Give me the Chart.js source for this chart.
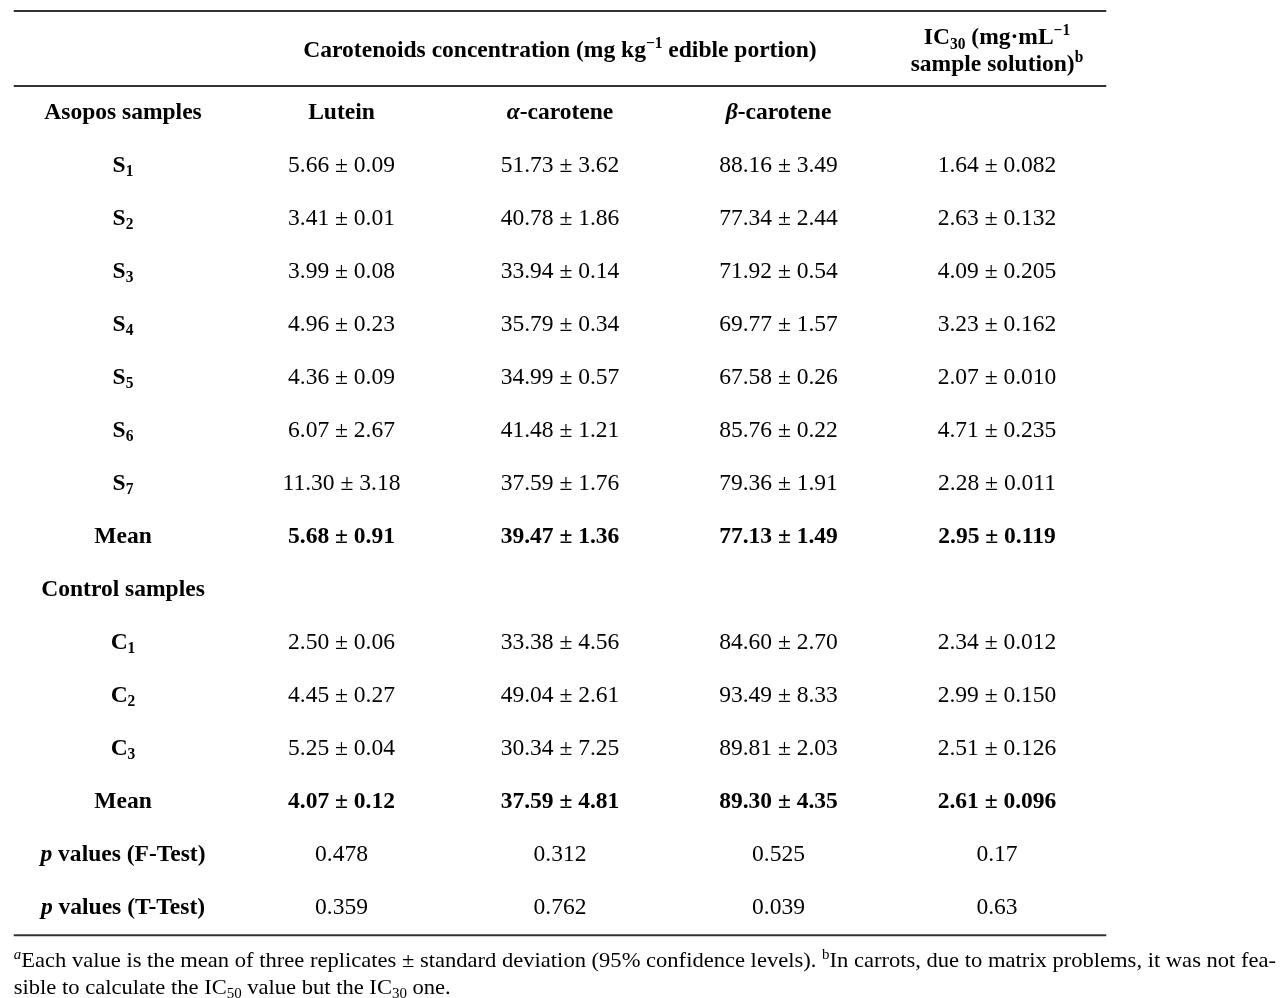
<!DOCTYPE html>
<html><head><meta charset="utf-8">
<script src="https://cdn.jsdelivr.net/npm/chart.js@4"></script>
<style>html,body{margin:0;padding:0;background:#fff;overflow:hidden}</style>
</head><body>
<canvas id="c" width="1283" height="998"></canvas>
<script>
// ---------- DATA ----------
const groupTitles = ['Asopos samples', 'Control samples'];
const asoposSamples = ['S1', 'S2', 'S3', 'S4', 'S5', 'S6', 'S7'];
const controlSamples = ['C1', 'C2', 'C3'];
const meanLabel = 'Mean';
const testLabels = ['~{p} values (F-Test)', '~{p} values (T-Test)'];
const columnNames = ['Lutein', '~{α}-carotene', '~{β}-carotene', ''];
const headerTitle = 'Carotenoids concentration (mg kg^{−1} edible portion)';
const icHeaderLines = ['IC_{30} (mg·mL^{−1}', 'sample solution)^{b}'];

// Asopos S1..S7, Asopos mean, Control C1..C3, Control mean
const luteinMean = [5.66, 3.41, 3.99, 4.96, 4.36, 6.07, 11.30, 5.68, 2.50, 4.45, 5.25, 4.07];
const luteinSD   = [0.09, 0.01, 0.08, 0.23, 0.09, 2.67, 3.18, 0.91, 0.06, 0.27, 0.04, 0.12];
const alphaMean  = [51.73, 40.78, 33.94, 35.79, 34.99, 41.48, 37.59, 39.47, 33.38, 49.04, 30.34, 37.59];
const alphaSD    = [3.62, 1.86, 0.14, 0.34, 0.57, 1.21, 1.76, 1.36, 4.56, 2.61, 7.25, 4.81];
const betaMean   = [88.16, 77.34, 71.92, 69.77, 67.58, 85.76, 79.36, 77.13, 84.60, 93.49, 89.81, 89.30];
const betaSD     = [3.49, 2.44, 0.54, 1.57, 0.26, 0.22, 1.91, 1.49, 2.70, 8.33, 2.03, 4.35];
const ic30Mean   = [1.64, 2.63, 4.09, 3.23, 2.07, 4.71, 2.28, 2.95, 2.34, 2.99, 2.51, 2.61];
const ic30SD     = [0.082, 0.132, 0.205, 0.162, 0.010, 0.235, 0.011, 0.119, 0.012, 0.150, 0.126, 0.096];
// p values per column: Lutein, α-carotene, β-carotene, IC30
const fTestP = [0.478, 0.312, 0.525, 0.17];
const tTestP = [0.359, 0.762, 0.039, 0.63];

const footnoteLines = [
  '^~{a}Each value is the mean of three replicates ± standard deviation (95% confidence levels). ^{b}In carrots, due to matrix problems, it was not fea-',
  'sible to calculate the IC_{50} value but the IC_{30} one.'
];

// ---------- BUILD TABLE ----------
const sampleRows = [...asoposSamples.map(s => s.replace(/(\d+)/, '_{$1}')), meanLabel,
                    ...controlSamples.map(s => s.replace(/(\d+)/, '_{$1}')), meanLabel];
const meanIdx = [7, 11];
// table row index for each sample value (row 0 = Asopos title, row 9 = Control title)
const valueRowIndex = [1,2,3,4,5,6,7,8,10,11,12,13];

const series = [
  {mean: luteinMean, sd: luteinSD, sdDec: 2},
  {mean: alphaMean, sd: alphaSD, sdDec: 2},
  {mean: betaMean, sd: betaSD, sdDec: 2},
  {mean: ic30Mean, sd: ic30SD, sdDec: 3}
];

const BODY = 24, FOOT = 21;
const cellDatasets = [];

// label column
const labelPts = [], labelTxt = [];
labelPts.push({x: 0, y: 0}); labelTxt.push({t: groupTitles[0], bold: true});
sampleRows.forEach((s, k) => {
  labelPts.push({x: 0, y: valueRowIndex[k]}); labelTxt.push({t: s, bold: true});
});
labelPts.push({x: 0, y: 9}); labelTxt.push({t: groupTitles[1], bold: true});
testLabels.forEach((s, k) => { labelPts.push({x: 0, y: 14 + k}); labelTxt.push({t: s, bold: true}); });
cellDatasets.push({pts: labelPts, txt: labelTxt});

series.forEach((ser, c) => {
  const pts = [], txt = [];
  if (columnNames[c]) { pts.push({x: c + 1, y: 0}); txt.push({t: columnNames[c], bold: true}); }
  ser.mean.forEach((m, k) => {
    pts.push({x: c + 1, y: valueRowIndex[k]});
    txt.push({t: m.toFixed(2) + ' ± ' + ser.sd[k].toFixed(ser.sdDec), bold: meanIdx.includes(k)});
  });
  pts.push({x: c + 1, y: 14}); txt.push({t: String(fTestP[c]), bold: false});
  pts.push({x: c + 1, y: 15}); txt.push({t: String(tTestP[c]), bold: false});
  cellDatasets.push({pts, txt});
});

// header (positions in row units)
cellDatasets.push({pts: [{x: 2, y: -1.16}], txt: [{t: headerTitle, bold: true}]});
cellDatasets.push({pts: [{x: 4, y: -1.405}, {x: 4, y: -0.895}],
                   txt: icHeaderLines.map(t => ({t, bold: true}))});
// footnote
cellDatasets.push({pts: [{x: -0.5, y: 16.03}, {x: -0.5, y: 16.53}],
                   txt: footnoteLines.map(t => ({t, bold: false})), size: FOOT, align: 'left', sx: 1.074});

const ruleYs = [-1.876, -0.46, 15.56];

const datasets = [];
cellDatasets.forEach(d => datasets.push({
  data: d.pts, texts: d.txt, fsize: d.size || BODY, align: d.align || 'center', sx: d.sx || 0.98,
  pointRadius: 0, pointHoverRadius: 0, showLine: false
}));
ruleYs.forEach(y => datasets.push({
  data: [{x: -0.5, y}, {x: 4.5, y}], showLine: true, borderColor: '#333',
  borderWidth: 2, pointRadius: 0, pointHoverRadius: 0
}));

// ---------- RICH TEXT ----------
function parseRich(s) {
  const out = []; const re = /([_^~]+)\{([^}]*)\}/g; let last = 0, m;
  while ((m = re.exec(s))) {
    if (m.index > last) out.push({t: s.slice(last, m.index)});
    out.push({t: m[2], sub: m[1].includes('_'), sup: m[1].includes('^'), it: m[1].includes('~')});
    last = re.lastIndex;
  }
  if (last < s.length) out.push({t: s.slice(last)});
  return out;
}
const FAMILY = '"Liberation Serif", "Times New Roman", serif';
function fontFor(seg, size, bold) {
  const sz = (seg.sub || seg.sup) ? size * 0.66 : size;
  return (seg.it ? 'italic ' : '') + (bold ? 'bold ' : '') + sz.toFixed(1) + 'px ' + FAMILY;
}
function drawRich(ctx, str, x, y, size, bold, align, sx) {
  const segs = parseRich(str);
  let w = 0;
  segs.forEach(s => { ctx.font = fontFor(s, size, bold); s.w = ctx.measureText(s.t).width; w += s.w; });
  const x0 = align === 'left' ? x : x - w * sx / 2;
  const base = y + size * 0.335;
  ctx.save();
  ctx.translate(x0, base);
  ctx.scale(sx, 1);
  let cx = 0;
  segs.forEach(s => {
    ctx.font = fontFor(s, size, bold);
    const dy = s.sub ? size * 0.2 : (s.sup ? -size * 0.38 : 0);
    ctx.fillText(s.t, cx, dy);
    cx += s.w;
  });
  ctx.restore();
}

const tablePlugin = {
  id: 'tableText',
  afterDatasetsDraw(chart) {
    const ctx = chart.ctx;
    ctx.save();
    ctx.fillStyle = '#000';
    ctx.textBaseline = 'alphabetic';
    ctx.textAlign = 'left';
    chart.data.datasets.forEach((ds, i) => {
      if (!ds.texts) return;
      chart.getDatasetMeta(i).data.forEach((el, j) => {
        const c = ds.texts[j];
        drawRich(ctx, c.t, el.x, el.y, ds.fsize, c.bold, ds.align, ds.sx);
      });
    });
    ctx.restore();
  }
};

// x: 1 unit = 218.5 px, column 0 centred at 123 px; y: 1 unit = 53 px, row 0 at 110.5 px
new Chart(document.getElementById('c'), {
  type: 'scatter',
  data: {datasets},
  options: {
    responsive: false, animation: false, devicePixelRatio: 1,
    layout: {padding: 0},
    plugins: {legend: {display: false}, tooltip: {enabled: false}},
    events: [],
    scales: {
      x: {type: 'linear', display: false, min: -123 / 218.5, max: (1283 - 123) / 218.5},
      y: {type: 'linear', display: false, reverse: true, min: -110.5 / 53, max: (998 - 110.5) / 53}
    }
  },
  plugins: [tablePlugin]
});
</script>
</body></html>
